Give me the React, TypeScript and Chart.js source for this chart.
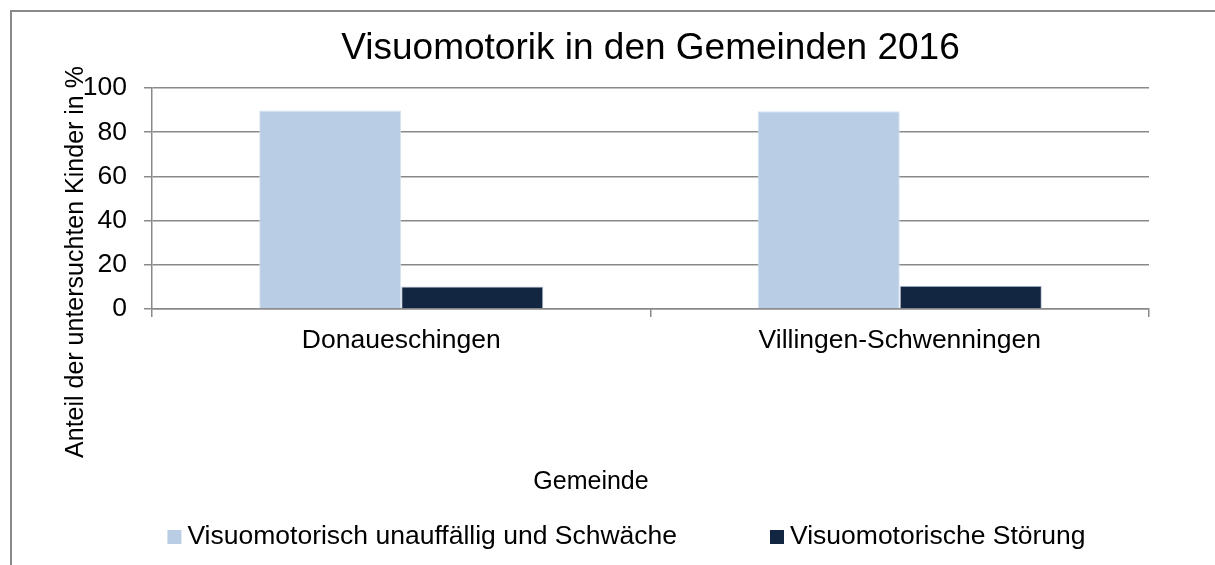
import React, { useEffect, useRef } from "react";
import { Chart, registerables } from "chart.js";

Chart.register(...registerables);

const categories = ["Donaueschingen", "Villingen-Schwenningen"];
const seriesLabels = ["Visuomotorisch unauffällig und Schwäche", "Visuomotorische Störung"];
const unauffaellig = [89.8, 89.5];
const stoerung = [10.2, 10.5];
const yTicks = [0, 20, 40, 60, 80, 100];
const titleText = "Visuomotorik in den Gemeinden 2016";
const xTitle = "Gemeinde";
const yTitle = "Anteil der untersuchten Kinder in %";

const FONT = "'Liberation Sans', Arial, sans-serif";
const GRID = "#898989";
const LIGHT = "#B9CDE5";
const DARK = "#122641";

const decorPlugin = {
  id: "decor",
  beforeDraw(chart: any) {
    const ctx = chart.ctx;
    ctx.save();
    ctx.fillStyle = "#ffffff";
    ctx.fillRect(0, 0, chart.width, chart.height);
    ctx.fillStyle = GRID;
    ctx.fillRect(10, 10, 2, chart.height);
    ctx.fillRect(10, 10, chart.width, 2);
    ctx.restore();
  },
  afterDraw(chart: any) {
    const ctx = chart.ctx;
    ctx.save();
    ctx.fillStyle = "#000";
    ctx.textAlign = "center";
    ctx.textBaseline = "middle";
    ctx.font = `25px ${FONT}`;
    ctx.fillText(xTitle, 591, 482);
    ctx.save();
    ctx.translate(76, 262);
    ctx.rotate(-Math.PI / 2);
    ctx.font = `25px ${FONT}`;
    ctx.fillText(yTitle, 0, 0);
    ctx.restore();

    // legend built from datasets
    const ds = chart.data.datasets;
    ctx.font = `26.5px ${FONT}`;
    const box = 14;
    const gapText = 6;
    const gapItems = 93;
    const widths = ds.map((d: any) => box + gapText + ctx.measureText(d.label).width);
    const total = widths.reduce((a: number, b: number) => a + b, 0) + gapItems * (ds.length - 1);
    let x = 626.5 - total / 2;
    const cy = 537;
    ctx.textAlign = "left";
    ds.forEach((d: any, i: number) => {
      ctx.fillStyle = d.backgroundColor;
      ctx.fillRect(x, cy - box / 2, box, box);
      ctx.fillStyle = "#000";
      ctx.fillText(d.label, x + box + gapText, cy);
      x += widths[i] + gapItems;
    });
    ctx.restore();
  },
};

export default function App() {
  const ref = useRef<HTMLCanvasElement>(null);
  useEffect(() => {
    if (!ref.current) return;
    const chart = new Chart(ref.current, {
      type: "bar",
      data: {
        labels: categories,
        datasets: [
          {
            label: seriesLabels[0],
            data: unauffaellig,
            backgroundColor: LIGHT,
            borderColor: "#d8e3f0",
            borderWidth: 1,
            categoryPercentage: 0.57,
            barPercentage: 1,
          },
          {
            label: seriesLabels[1],
            data: stoerung,
            backgroundColor: DARK,
            borderColor: "#b9c4d3",
            borderWidth: 1,
            categoryPercentage: 0.57,
            barPercentage: 1,
          },
        ],
      },
      options: {
        animation: false,
        responsive: false,
        maintainAspectRatio: false,
        layout: { padding: { left: 0, right: 66, top: 0, bottom: 0 } },
        plugins: {
          legend: { display: false },
          tooltip: { enabled: false },
          title: {
            display: true,
            text: titleText,
            fullSize: false,
            color: "#000",
            font: { family: FONT, size: 37, weight: "normal", lineHeight: 1.2 },
            padding: { top: 27, bottom: 16.6 },
          },
        },
        scales: {
          x: {
            grid: {
              offset: true,
              drawOnChartArea: false,
              drawTicks: true,
              tickLength: 8,
              color: GRID,
              lineWidth: 1.5,
            },
            border: { display: true, color: GRID, width: 1.5 },
            ticks: {
              color: "#000",
              font: { family: FONT, size: 26.5 },
              padding: 8,
              maxRotation: 0,
              autoSkip: false,
            },
            afterFit: (s: any) => {
              s.height = 256;
            },
          },
          y: {
            min: 0,
            max: 100,
            afterBuildTicks: (s: any) => {
              s.ticks = yTicks.map((v) => ({ value: v }));
            },
            ticks: {
              color: "#000",
              font: { family: FONT, size: 26.5 },
              padding: 17,
            },
            grid: { color: GRID, lineWidth: 1.5, tickLength: 8, drawTicks: true },
            border: { display: true, color: GRID, width: 1.5 },
            afterFit: (s: any) => {
              s.width = 152;
            },
          },
        },
      } as any,
      plugins: [decorPlugin],
    });
    return () => chart.destroy();
  }, []);
  return (
    <div style={{ position: "fixed", left: 0, top: 0, width: 1215, height: 565, background: "#fff" }}>
      <canvas ref={ref} width={1215} height={565} style={{ display: "block" }} />
    </div>
  );
}
